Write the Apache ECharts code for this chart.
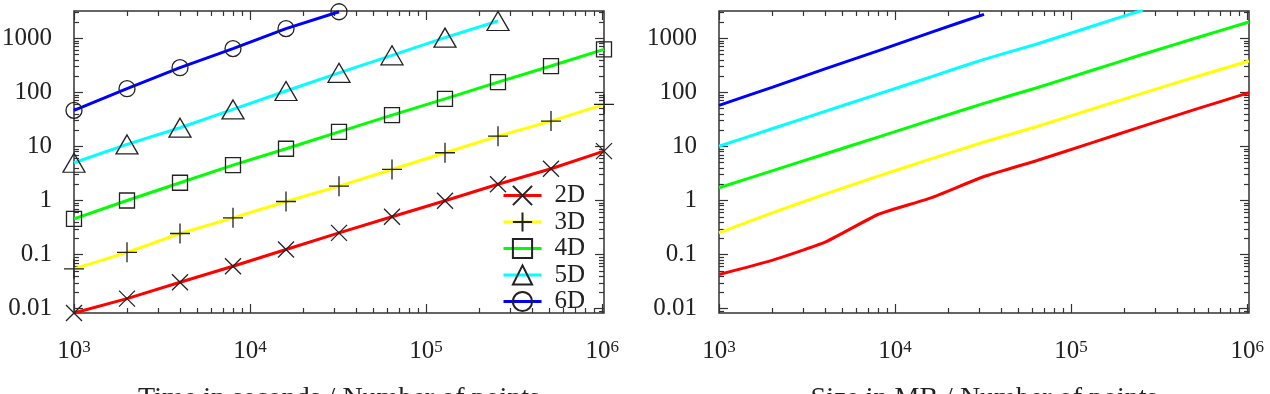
<!DOCTYPE html>
<html>
<head>
<meta charset="utf-8">
<script src="https://cdn.jsdelivr.net/npm/echarts@6/dist/echarts.min.js"></script>
<style>
html, body { margin: 0; padding: 0; background: #fff; }
#chart { width: 1270px; height: 394px; }
</style>
</head>
<body>
<div id="chart"></div>
<script>
const seriesNames = ['2D', '3D', '4D', '5D', '6D'];
const lineColors = ['#ff0000', '#ffff00', '#00ff00', '#00ffff', '#0000ff'];
const pointsX = [1000, 2000, 4000, 8000, 16000, 32000, 64000, 128000, 256000, 512000, 1024000];

// left: time in seconds
const time2D = [0.0083, 0.0153, 0.0307, 0.0607, 0.124, 0.252, 0.5, 0.99, 2.0, 3.87, 8.2];
const time3D = [0.0543, 0.11, 0.245, 0.478, 0.958, 1.84, 3.75, 7.64, 15.5, 29.4, 60];
const time4D = [0.458, 1.0, 2.13, 4.5, 9.06, 18.6, 38, 76, 155, 307, 625];
const time5D = [4.99, 10.9, 22.2, 48.4, 106, 230, 484, 1030, 2090];
const time6D = [46.4, 117, 286, 644, 1510, 3100];

// right: size in MB
const size2D = [0.0427, 0.078, 0.169, 0.551, 1.12, 2.78, 5.5, 11.4, 23.8, 49, 98.7];
const size3D = [0.252, 0.59, 1.31, 2.82, 5.9, 12.1, 23.4, 47.8, 97, 195, 380];
const size4D = [1.72, 3.53, 7.26, 14.9, 30.7, 62.5, 122, 248, 506, 1013, 2005];
const size5D = [10.1, 21.2, 44.5, 93, 194, 408, 784, 1620, 3340];
const size6D = [57.4, 124, 272, 587, 1290, 2780];

const xTicks = [1e3, 1e4, 1e5, 1e6];
const yTicks = [0.01, 0.1, 1, 10, 100, 1000];
const yTickLabels = ['0.01', '0.1', '1', '10', '100', '1000'];
const xTitles = ['Time in seconds / Number of points', 'Size in MB / Number of points'];

const xMin = 1000, xMax = 1024000;
const yMin = 0.0083, yMax = 3200;

const FONT = 'Liberation Serif';
const INK = '#333';

// minor ticks 2..9 of each decade
function minorTicks(lo, hi) {
  const out = [];
  for (let d = Math.pow(10, Math.floor(Math.log10(lo))); d < hi; d *= 10) {
    for (let m = 2; m <= 9; m++) {
      const v = parseFloat((m * d).toPrecision(6));
      if (v > lo && v < hi) out.push(v);
    }
  }
  return out;
}
const xMinor = minorTicks(xMin, xMax);
const yMinor = minorTicks(0.001, yMax).filter(v => v > yMin);

const tickLine = { color: INK, width: 1.2 };

function makeX(gridIndex, name) {
  const base = {
    type: 'log', gridIndex: gridIndex, min: xMin, max: xMax,
    axisLine: { show: false, onZero: false },
    splitLine: { show: false },
    axisLabel: { show: false },
  };
  return [
    Object.assign({}, base, {
      position: 'bottom',
      name: name, nameLocation: 'middle', nameGap: 72,
      nameTextStyle: { fontFamily: FONT, fontSize: 28, color: '#222' },
      axisTick: { show: true, inside: true, length: 9, lineStyle: tickLine, customValues: xTicks },
      axisLabel: {
        show: true, customValues: xTicks, margin: 26,
        formatter: v => '{b|10}{s|' + Math.round(Math.log10(v)) + '}',
        rich: {
          b: { fontFamily: FONT, fontSize: 25, color: '#222' },
          s: { fontFamily: FONT, fontSize: 17, color: '#222', verticalAlign: 'top' },
        },
      },
    }),
    Object.assign({}, base, { position: 'bottom', axisTick: { show: true, inside: true, length: 5, lineStyle: tickLine, customValues: xMinor } }),
    Object.assign({}, base, { position: 'top', axisTick: { show: true, inside: true, length: 9, lineStyle: tickLine, customValues: xTicks } }),
    Object.assign({}, base, { position: 'top', axisTick: { show: true, inside: true, length: 5, lineStyle: tickLine, customValues: xMinor } }),
  ];
}

function makeY(gridIndex) {
  const base = {
    type: 'log', gridIndex: gridIndex, min: yMin, max: yMax,
    axisLine: { show: false, onZero: false },
    splitLine: { show: false },
    axisLabel: { show: false },
  };
  return [
    Object.assign({}, base, {
      position: 'left',
      axisTick: { show: true, inside: true, length: 9, lineStyle: tickLine, customValues: yTicks },
      axisLabel: {
        show: true, customValues: yTicks, margin: 22,
        fontFamily: FONT, fontSize: 25, color: '#222',
        formatter: v => {
          const i = yTicks.findIndex(t => Math.abs(Math.log10(t) - Math.log10(v)) < 0.01);
          return i >= 0 ? yTickLabels[i] : '';
        },
      },
    }),
    Object.assign({}, base, { position: 'left', axisTick: { show: true, inside: true, length: 5, lineStyle: tickLine, customValues: yMinor } }),
    Object.assign({}, base, { position: 'right', axisTick: { show: true, inside: true, length: 9, lineStyle: tickLine, customValues: yTicks } }),
    Object.assign({}, base, { position: 'right', axisTick: { show: true, inside: true, length: 5, lineStyle: tickLine, customValues: yMinor } }),
  ];
}

const markers = [
  'path://M0,0L10,10M0,10L10,0',
  'path://M5,0L5,10M0,5L10,5',
  'rect',
  'triangle',
  'circle',
];
const markerSizes = [16, 20, 15, [22, 19], 16];

function pairs(ys) {
  return ys.map((y, i) => [pointsX[i], y]);
}

const timeData = [time2D, time3D, time4D, time5D, time6D];
const sizeData = [size2D, size3D, size4D, size5D, size6D];

const series = [];
timeData.forEach((ys, i) => {
  series.push({
    name: seriesNames[i], type: 'line', xAxisIndex: 0, yAxisIndex: 0,
    data: pairs(ys),
    symbol: markers[i], symbolSize: markerSizes[i], showAllSymbol: true,
    lineStyle: { color: lineColors[i], width: 3 },
    itemStyle: { color: 'transparent', borderColor: '#222', borderWidth: 1.3 },
    z: 3,
  });
});
sizeData.forEach((ys, i) => {
  series.push({
    name: seriesNames[i], type: 'line', xAxisIndex: 4, yAxisIndex: 4,
    data: pairs(ys),
    symbol: 'none', smooth: 0.15,
    lineStyle: { color: lineColors[i], width: 3 },
    itemStyle: { color: lineColors[i] },
  });
});

const chart = echarts.init(document.getElementById('chart'));
chart.setOption({
  backgroundColor: '#fff',
  animation: false,
  grid: [
    { left: 74, top: 11, width: 530, height: 302, outerBoundsMode: 'none', show: true, borderColor: INK, borderWidth: 1.5 },
    { left: 719, top: 11, width: 530, height: 302, outerBoundsMode: 'none', show: true, borderColor: INK, borderWidth: 1.5 },
  ],
  legend: {
    data: seriesNames,
    orient: 'vertical',
    left: 502, top: 183, padding: 0,
    itemWidth: 38, itemHeight: 24, itemGap: 1.5,
    selectedMode: false,
    lineStyle: { width: 3 },
    textStyle: { fontFamily: FONT, fontSize: 25, lineHeight: 24, color: '#222', padding: [0, 0, 0, 8] },
  },
  xAxis: makeX(0, xTitles[0]).concat(makeX(1, xTitles[1])),
  yAxis: makeY(0).concat(makeY(1)),
  series: series,
});
window.addEventListener('resize', () => chart.resize());
</script>
</body>
</html>
